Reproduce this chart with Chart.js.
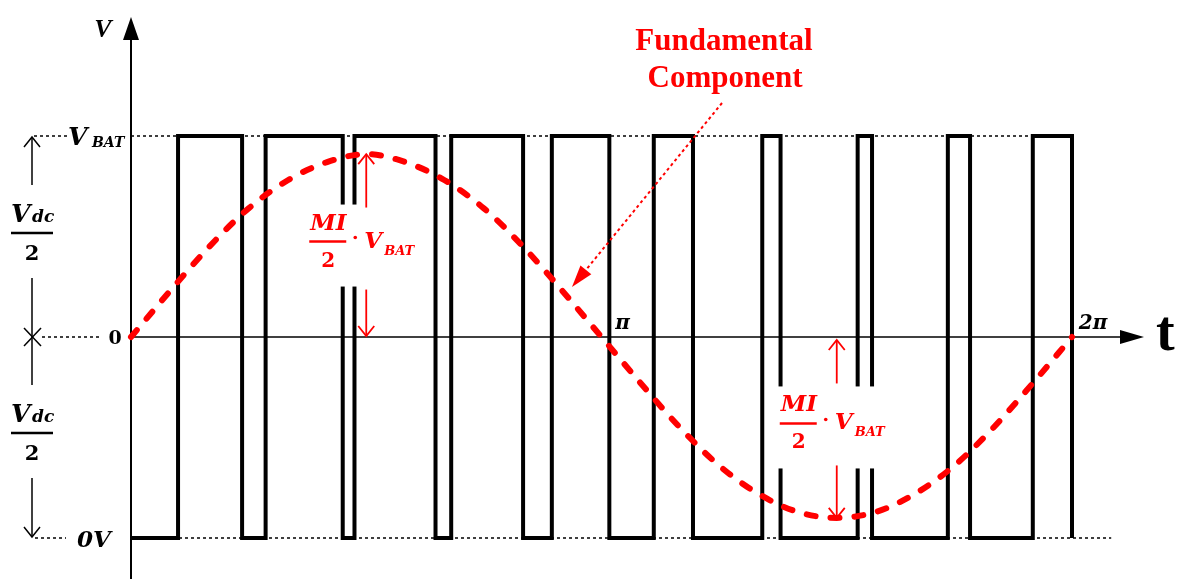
<!DOCTYPE html>
<html>
<head>
<meta charset="utf-8">
<script src="https://cdn.jsdelivr.net/npm/chart.js@4/dist/chart.umd.min.js"></script>
<style>
  html, body { margin: 0; padding: 0; background: #fff; }
  #wrap { width: 1177px; height: 579px; }
</style>
</head>
<body>
<div id="wrap"><canvas id="pwmChart"></canvas></div>
<script>
// PWM switching instants in degrees of one period: rising / falling edge
const pulseOn  = [18, 51.5, 85.5, 122.5, 161, 200, 241.5, 278, 312.5, 345];
const pulseOff = [42.5, 81, 116.5, 150, 183, 215, 248.5, 283.5, 321, 360];
const traceEnd = 375;
const levelHigh = 1;    // V_BAT
const levelLow = -1;    // 0V

// fundamental component, every 15 degrees
const sineAngles = [0, 15, 30, 45, 60, 75, 90, 105, 120, 135, 150, 165, 180,
                    195, 210, 225, 240, 255, 270, 285, 300, 315, 330, 345, 360];
const sineValues = [0, 0.23, 0.45, 0.64, 0.78, 0.87, 0.91, 0.87, 0.78, 0.64, 0.45, 0.23, 0,
                    -0.23, -0.45, -0.64, -0.78, -0.87, -0.90, -0.87, -0.78, -0.64, -0.45, -0.23, 0];
const peakAngles = [90, 270];
const peakValues = [0.91, -0.90];

const xTickValues = [180, 360];
const xTickLabels = ['π', '2π'];

const RED = '#ff0000';
const SERIF = '"Liberation Serif", serif';
const MATH = '"DejaVu Serif", serif';

// step trace built from the edges
const pwmPoints = [{ x: 0, y: levelLow }];
pulseOn.forEach((on, i) => {
  pwmPoints.push({ x: on, y: levelLow }, { x: on, y: levelHigh },
                 { x: pulseOff[i], y: levelHigh }, { x: pulseOff[i], y: levelLow });
});
pwmPoints.push({ x: traceEnd, y: levelLow });

const sinePoints = sineAngles.map((a, i) => ({ x: a, y: sineValues[i] }));

function line(ctx, x1, y1, x2, y2) {
  ctx.beginPath(); ctx.moveTo(x1, y1); ctx.lineTo(x2, y2); ctx.stroke();
}

// straight arrow with an open head at (x, yTip)
function arrow(ctx, x, yTail, yTip, color, w) {
  const dir = yTip > yTail ? 1 : -1;
  ctx.strokeStyle = color; ctx.lineWidth = w;
  line(ctx, x, yTail, x, yTip);
  ctx.beginPath();
  ctx.moveTo(x - 8, yTip - dir * 10);
  ctx.lineTo(x, yTip);
  ctx.lineTo(x + 8, yTip - dir * 10);
  ctx.stroke();
}

function text(ctx, s, x, y, font, color, align) {
  ctx.font = font; ctx.fillStyle = color; ctx.textAlign = align || 'left';
  ctx.fillText(s, x, y);
}

// V_dc over 2
function vdcFrac(ctx, cx, by) {
  text(ctx, 'V', cx - 21, by - 11, 'italic bold 25px ' + MATH, '#000');
  text(ctx, 'dc', cx + 0, by - 11, 'italic bold 17px ' + MATH, '#000');
  ctx.strokeStyle = '#000'; ctx.lineWidth = 2.5;
  line(ctx, cx - 21, by, cx + 21, by);
  text(ctx, '2', cx, by + 27, 'bold 21px ' + MATH, '#000', 'center');
}

// MI/2 · V_BAT label, placed by the fraction bar
function miLabel(ctx, cx, by) {
  text(ctx, 'MI', cx - 18, by - 12, 'italic bold 23px ' + MATH, RED);
  ctx.strokeStyle = RED; ctx.lineWidth = 2.5;
  line(ctx, cx - 19, by, cx + 18, by);
  text(ctx, '2', cx, by + 25, 'bold 20px ' + MATH, RED, 'center');
  ctx.fillStyle = RED;
  ctx.beginPath(); ctx.arc(cx + 27, by - 4, 1.8, 0, Math.PI * 2); ctx.fill();
  text(ctx, 'V', cx + 36, by + 6, 'italic bold 23px ' + MATH, RED);
  text(ctx, 'BAT', cx + 56, by + 13, 'italic bold 13px ' + MATH, RED);
}

const sketch = {
  id: 'sketch',
  beforeDatasetsDraw(chart) {
    const { ctx, scales: { x, y } } = chart;
    const x0 = x.getPixelForValue(0);
    const yHi = y.getPixelForValue(levelHigh);
    const yMid = y.getPixelForValue(0);
    const yLo = y.getPixelForValue(levelLow);
    ctx.save();

    // dotted level lines
    ctx.strokeStyle = '#000'; ctx.lineWidth = 1.5; ctx.setLineDash([3, 3]);
    line(ctx, 34, yHi, 67, yHi);
    line(ctx, x0, yHi, x.getPixelForValue(360), yHi);
    line(ctx, 42, yMid, 100, yMid);
    line(ctx, 35, yLo, 66, yLo);
    line(ctx, x0, yLo, x.getPixelForValue(traceEnd), yLo);
    ctx.setLineDash([]);

    // axes with arrow heads
    ctx.lineWidth = 2;
    line(ctx, x0, 579, x0, 36);
    ctx.fillStyle = '#000';
    ctx.beginPath(); ctx.moveTo(x0, 17); ctx.lineTo(x0 - 8, 40); ctx.lineTo(x0 + 8, 40); ctx.fill();
    ctx.lineWidth = 1.5;
    line(ctx, x0, yMid, 1124, yMid);
    ctx.beginPath(); ctx.moveTo(1144, yMid); ctx.lineTo(1120, yMid - 7); ctx.lineTo(1120, yMid + 7); ctx.fill();
    ctx.restore();
  },
  afterDatasetsDraw(chart) {
    const { ctx, scales: { x, y } } = chart;
    const yHi = y.getPixelForValue(levelHigh);
    const yMid = y.getPixelForValue(0);
    const yLo = y.getPixelForValue(levelLow);
    ctx.save();
    ctx.textBaseline = 'alphabetic';

    // axis captions and level labels
    text(ctx, 'V', 103, 37, 'italic bold 26px ' + SERIF, '#000', 'center');
    text(ctx, 't', 1156, 350, 'bold 56px ' + SERIF, '#000');
    text(ctx, 'V', 68, yHi + 9, 'italic bold 25px ' + MATH, '#000');
    text(ctx, 'BAT', 92, yHi + 11, 'italic bold 14px ' + MATH, '#000');
    text(ctx, '0', 115, yMid + 7, 'bold 19px ' + MATH, '#000', 'center');
    text(ctx, '0V', 77, yLo + 9, 'italic bold 23px ' + MATH, '#000');
    xTickValues.forEach((v, i) => {
      text(ctx, xTickLabels[i], x.getPixelForValue(v) + 21, yMid - 8, 'italic bold 20px ' + MATH, '#000', 'center');
    });

    // left span markers: Vdc/2 above and below the midpoint
    arrow(ctx, 32, 185, yHi + 1, '#000', 1.5);
    ctx.lineWidth = 1.5;
    line(ctx, 32, 278, 32, 385);
    line(ctx, 24, yMid - 9, 41, yMid + 9);
    line(ctx, 24, yMid + 9, 41, yMid - 9);
    arrow(ctx, 32, 478, yLo - 1, '#000', 1.5);
    vdcFrac(ctx, 32, 233);
    vdcFrac(ctx, 32, 433);

    // amplitude annotations at the peaks of the fundamental
    peakAngles.forEach((a, i) => {
      const px = x.getPixelForValue(a);
      const yPeak = y.getPixelForValue(peakValues[i]);
      const yc = y.getPixelForValue(peakValues[i] / 2);
      const half = 41;
      ctx.fillStyle = '#fff';
      ctx.fillRect(px - 64, yc - half, 125, half * 2);
      const up = peakValues[i] > 0;
      arrow(ctx, px, up ? yc - half + 3 : yc + half - 3, yPeak, RED, 1.8);
      arrow(ctx, px, up ? yc + half + 3 : yc - half - 3, yMid - (up ? 1 : -3), RED, 1.8);
      miLabel(ctx, px - 38, yc - 4);
    });

    // callout for the fundamental
    text(ctx, 'Fundamental', 724, 50, 'bold 31px ' + SERIF, RED, 'center');
    text(ctx, 'Component', 725, 87, 'bold 31px ' + SERIF, RED, 'center');
    const ax = 722, ay = 103, tx = 572, ty = 287;
    const len = Math.hypot(tx - ax, ty - ay);
    const ux = (tx - ax) / len, uy = (ty - ay) / len;
    ctx.strokeStyle = RED; ctx.lineWidth = 2; ctx.setLineDash([3, 3]);
    line(ctx, ax, ay, tx - ux * 18, ty - uy * 18);
    ctx.setLineDash([]);
    ctx.fillStyle = RED;
    ctx.beginPath();
    ctx.moveTo(tx, ty);
    ctx.lineTo(tx - ux * 22 - uy * 7, ty - uy * 22 + ux * 7);
    ctx.lineTo(tx - ux * 22 + uy * 7, ty - uy * 22 - ux * 7);
    ctx.fill();
    ctx.restore();
  }
};

new Chart(document.getElementById('pwmChart'), {
  type: 'scatter',
  data: {
    datasets: [
      {
        label: 'Fundamental',
        data: sinePoints,
        showLine: true,
        borderColor: RED,
        borderWidth: 6,
        borderDash: [9, 15],
        borderCapStyle: 'round',
        cubicInterpolationMode: 'monotone',
        pointRadius: 0,
        clip: false,
        order: 0
      },
      {
        label: 'PWM',
        data: pwmPoints,
        showLine: true,
        borderColor: '#000',
        borderWidth: 4,
        borderJoinStyle: 'miter',
        pointRadius: 0,
        clip: false,
        order: 1
      }
    ]
  },
  options: {
    responsive: true,
    maintainAspectRatio: false,
    animation: false,
    devicePixelRatio: 1,
    layout: { padding: { left: 131, right: 105, top: 136, bottom: 41 } },
    plugins: { legend: { display: false }, tooltip: { enabled: false } },
    scales: {
      x: { type: 'linear', min: 0, max: 360, display: false },
      y: { type: 'linear', min: -1, max: 1, display: false }
    }
  },
  plugins: [sketch]
});
</script>
</body>
</html>
